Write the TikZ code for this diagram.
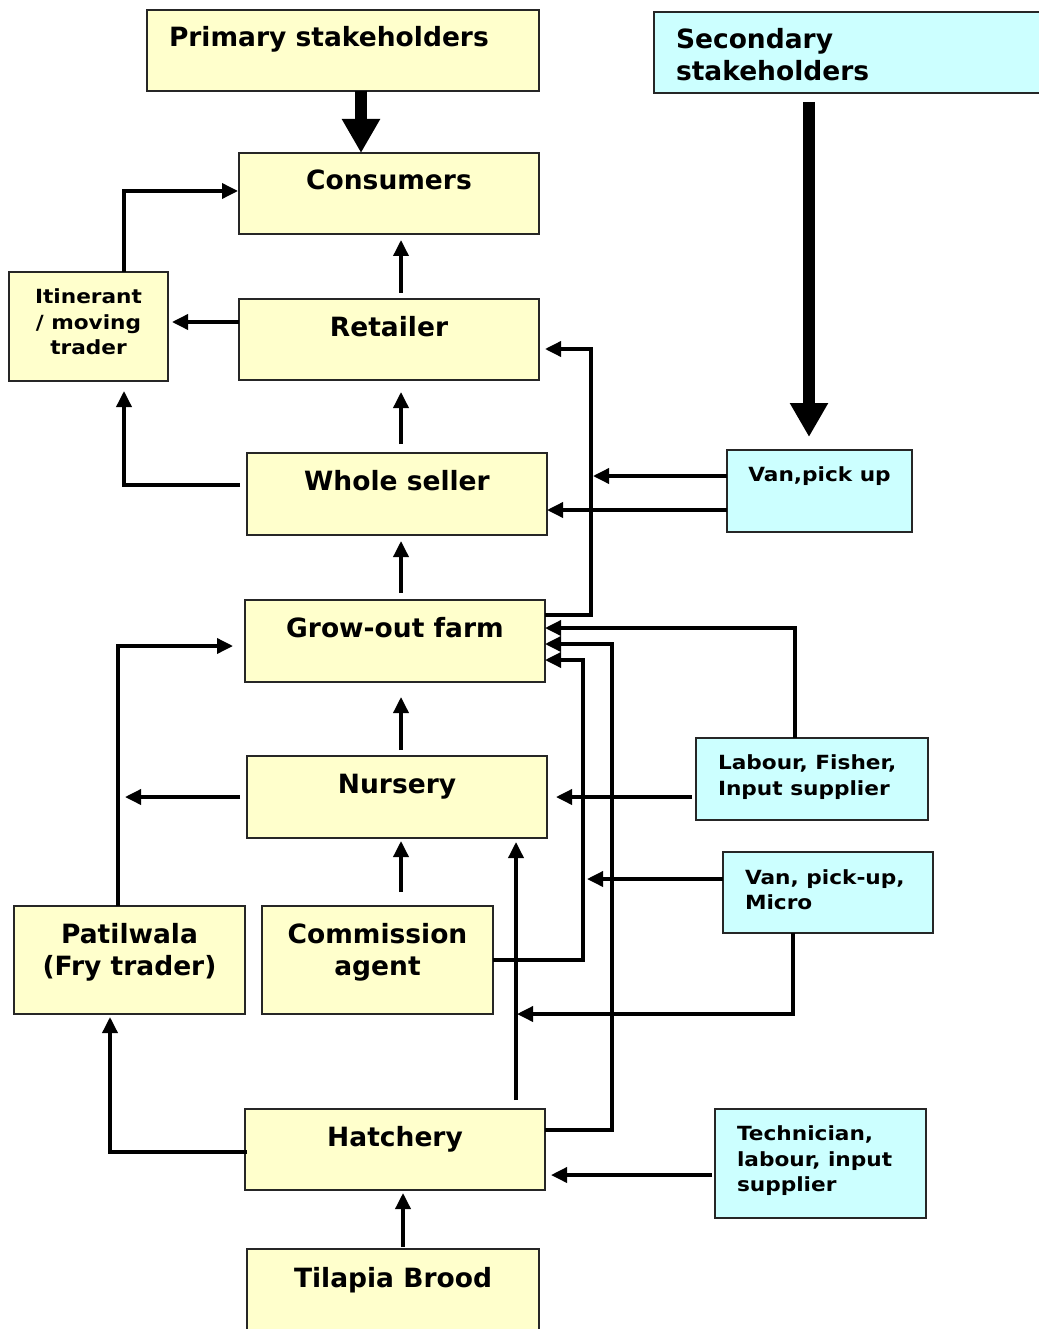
\documentclass[tikz,border=0pt]{standalone}
\usepackage{fontspec}
\setmainfont{DejaVu Sans}
\newfontfamily\widefam{DejaVu Sans}[FakeStretch=1.11]
\usetikzlibrary{arrows.meta,calc}
\newcommand{\cbox}[4]{\parbox[t][#1][t]{#2}{\centering\rule{0pt}{#3}#4\par}}
\newcommand{\lbox}[4]{\parbox[t][#1][t]{#2}{\raggedright\leftskip=22pt\rule{0pt}{#3}#4\par}}
\begin{document}
\begin{tikzpicture}[x=1pt,y=-1pt,
  basebox/.style={draw=black!85, line width=1.6pt, inner sep=0pt, outer sep=0pt, anchor=north west},
  ybox/.style={basebox, fill={rgb,255:red,255;green,255;blue,204}},
  cbx/.style={basebox, fill={rgb,255:red,204;green,255;blue,255}},
  bigfont/.style={font=\fontsize{26.5}{32}\selectfont\bfseries},
  smallfont/.style={font=\widefam\fontsize{19.5}{25.7}\selectfont\bfseries},
  conn/.style={line width=3.5pt, line join=miter, -{Triangle[length=16pt,width=15pt]}},
  bigarrow/.style={line width=12pt, -{Triangle[length=34pt,width=36pt]}}]
\useasboundingbox (0,0) rectangle (1038,1329);

% boxes
\node[ybox,bigfont] (prim) at (147,10) {\lbox{81pt}{392pt}{37pt}{Primary stakeholders}};
\node[cbx,bigfont] (sec) at (654,12) {\lbox{81pt}{392pt}{37pt}{Secondary\\stakeholders}};
\node[ybox,bigfont] (cons) at (239,153) {\cbox{81pt}{300pt}{37pt}{Consumers}};
\node[ybox,smallfont] (itin) at (9,272) {\cbox{109pt}{159pt}{31.5pt}{Itinerant\\/ moving\\trader}};
\node[ybox,bigfont] (ret) at (239,299) {\cbox{81pt}{300pt}{37.5pt}{Retailer}};
\node[ybox,bigfont] (whole) at (247,453) {\cbox{82pt}{300pt}{37.5pt}{Whole seller}};
\node[cbx,smallfont] (van1) at (727,450) {\cbox{82pt}{185pt}{31.7pt}{Van,pick up}};
\node[ybox,bigfont] (grow) at (245,600) {\cbox{82pt}{300pt}{37.5pt}{Grow-out farm}};
\node[cbx,smallfont] (lab) at (696,738) {\lbox{82pt}{232pt}{31.3pt}{Labour, Fisher,\\Input supplier}};
\node[ybox,bigfont] (nurs) at (247,756) {\cbox{82pt}{300pt}{37.5pt}{Nursery}};
\node[cbx,smallfont] (van2) at (723,852) {\lbox{81pt}{210pt}{32pt}{Van, pick-up,\\Micro}};
\node[ybox,bigfont] (pati) at (14,906) {\cbox{108pt}{231pt}{37pt}{Patilwala\\(Fry trader)}};
\node[ybox,bigfont] (comm) at (262,906) {\cbox{108pt}{231pt}{37pt}{Commission\\agent}};
\node[ybox,bigfont] (hatch) at (245,1109) {\cbox{81pt}{300pt}{37.5pt}{Hatchery}};
\node[cbx,smallfont] (tech) at (715,1109) {\lbox{109pt}{211pt}{31.4pt}{Technician,\\labour, input\\supplier}};
\node[ybox,bigfont] (tila) at (247,1249) {\cbox{100pt}{292pt}{38.5pt}{Tilapia Brood}};

% thick arrows
\draw[bigarrow] ($(prim.south)+(18,0)$) -- ($(cons.north)+(-28,0)$);
\draw[bigarrow] ($(sec.south west)+(155,9)$) -- ($(van1.north west)+(82,-13)$);

% connectors
\draw[conn] ($(ret.north west)+(162,-6)$) -- ($(cons.south west)+(162,6)$);
\draw[conn] ($(ret.north west)+(0,23)$) -- ($(itin.north east)+(4,50)$);
\draw[conn] ($(itin.north west)+(115,0)$) |- ($(cons.north west)+(-1,38)$);
\draw[conn] ($(whole.north west)+(154,-9)$) -- ($(ret.south west)+(162,12)$);
\draw[conn] ($(whole.north west)+(-7,32)$) -| ($(itin.south west)+(115,10)$);
\draw[conn] ($(van1.north west)+(0,26)$) -- ($(grow.north east)+(48,-124)$);
\draw[conn] ($(van1.north west)+(0,60)$) -- ($(whole.north east)+(0,57)$);
\draw[conn] ($(grow.north east)+(0,15)$) -| ($(ret.north east)+(52,50)$) -- ($(ret.north east)+(6,50)$);
\draw[conn] ($(grow.north west)+(156,-7)$) -- ($(whole.south west)+(154,6)$);
\draw[conn] ($(lab.north west)+(99,0)$) |- ($(grow.north east)+(0,28)$);
\draw[conn] ($(lab.north west)+(-4,59)$) -- ($(nurs.north east)+(9,41)$);
\draw[conn] ($(nurs.north west)+(154,-6)$) -- ($(grow.south west)+(156,15)$);
\draw[conn] ($(nurs.north west)+(-7,41)$) -- ($(pati.north west)+(111,-109)$);
\draw[conn] ($(pati.north west)+(104,0)$) |- ($(grow.north west)+(-12,46)$);
\draw[conn] ($(comm.north west)+(139,-14)$) -- ($(nurs.south west)+(154,3)$);
\draw[conn] ($(comm.north east)+(0,54)$) -| ($(grow.north east)+(38,60)$) -- ($(grow.north east)+(0,60)$);
\draw[conn] ($(van2.north west)+(0,27)$) -- ($(grow.north east)+(42,279)$);
\draw[conn] ($(van2.south west)+(70,0)$) |- ($(hatch.north east)+(-28,-95)$);
\draw[conn] ($(hatch.north west)+(271,-9)$) -- ($(nurs.south west)+(269,4)$);
\draw[conn] ($(hatch.north east)+(0,21)$) -| ($(grow.north east)+(67,44)$) -- ($(grow.north east)+(0,44)$);
\draw[conn] ($(hatch.north west)+(2,43)$) -| ($(pati.south west)+(96,3)$);
\draw[conn] ($(tech.north west)+(-3,66)$) -- ($(hatch.north east)+(6,66)$);
\draw[conn] ($(tila.north west)+(156,-2)$) -- ($(hatch.south west)+(158,3)$);
\end{tikzpicture}
\end{document}
